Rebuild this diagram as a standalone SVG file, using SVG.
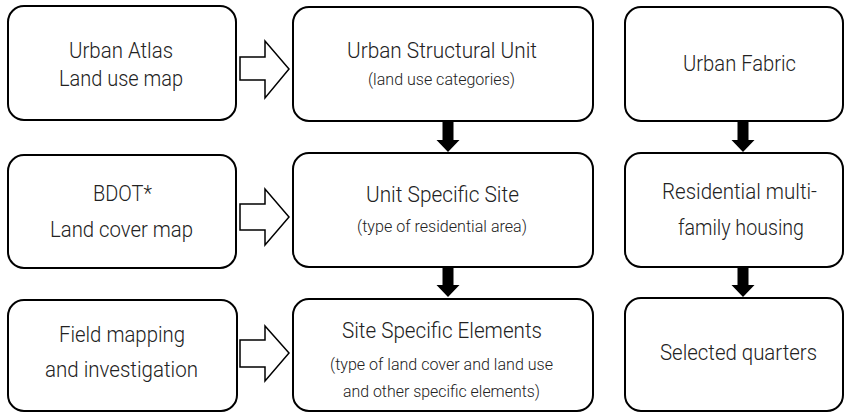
<svg xmlns="http://www.w3.org/2000/svg" width="845" height="413" viewBox="0 0 845 413">
<style>
.box{fill:#fff;stroke:#000;stroke-width:2}
.t{font-family:Roboto,"Liberation Sans",sans-serif;font-weight:300;font-size:22px;fill:#222}
.s{font-family:Roboto,"Liberation Sans",sans-serif;font-weight:300;font-size:16.5px;fill:#222}
.hollow{fill:#fff;stroke:#000;stroke-width:1.5;stroke-linejoin:miter}
.solid{fill:#000}
</style>
<rect width="845" height="413" fill="#fff"/>
<g id="urban-atlas">
<rect class="box" x="8" y="6" width="228" height="114" rx="16"/>
<text class="t" x="69" y="58" textLength="104" lengthAdjust="spacingAndGlyphs">Urban Atlas</text>
<text class="t" x="59" y="86" textLength="124" lengthAdjust="spacingAndGlyphs">Land use map</text>
</g>
<g id="urban-structural-unit">
<rect class="box" x="293" y="7" width="300" height="114" rx="16"/>
<text class="t" x="347" y="58" textLength="190" lengthAdjust="spacingAndGlyphs">Urban Structural Unit</text>
<text class="s" x="368" y="85" textLength="147" lengthAdjust="spacingAndGlyphs">(land use categories)</text>
</g>
<g id="urban-fabric">
<rect class="box" x="625" y="7" width="218" height="114" rx="16"/>
<text class="t" x="683" y="71" textLength="113" lengthAdjust="spacingAndGlyphs">Urban Fabric</text>
</g>
<g id="bdot">
<rect class="box" x="8" y="155" width="228" height="113" rx="16"/>
<text class="t" x="93" y="201" textLength="59" lengthAdjust="spacingAndGlyphs">BDOT*</text>
<text class="t" x="50" y="237" textLength="143" lengthAdjust="spacingAndGlyphs">Land cover map</text>
</g>
<g id="unit-specific-site">
<rect class="box" x="293" y="153" width="300" height="114" rx="16"/>
<text class="t" x="366" y="202" textLength="153" lengthAdjust="spacingAndGlyphs">Unit Specific Site</text>
<text class="s" x="357" y="232" textLength="170" lengthAdjust="spacingAndGlyphs">(type of residential area)</text>
</g>
<g id="residential">
<rect class="box" x="625" y="153" width="218" height="114" rx="16"/>
<text class="t" x="662" y="199" textLength="155" lengthAdjust="spacingAndGlyphs">Residential multi-</text>
<text class="t" x="678" y="235" textLength="126" lengthAdjust="spacingAndGlyphs">family housing</text>
</g>
<g id="field-mapping">
<rect class="box" x="8" y="300" width="229" height="111" rx="16"/>
<text class="t" x="59" y="342" textLength="126" lengthAdjust="spacingAndGlyphs">Field mapping</text>
<text class="t" x="45" y="377" textLength="153" lengthAdjust="spacingAndGlyphs">and investigation</text>
</g>
<g id="site-specific-elements">
<rect class="box" x="293" y="299" width="300" height="112" rx="16"/>
<text class="t" x="342" y="338" textLength="200" lengthAdjust="spacingAndGlyphs">Site Specific Elements</text>
<text class="s" x="330" y="370" textLength="223" lengthAdjust="spacingAndGlyphs">(type of land cover and land use</text>
<text class="s" x="343" y="397" textLength="197" lengthAdjust="spacingAndGlyphs">and other specific elements)</text>
</g>
<g id="selected-quarters">
<rect class="box" x="625" y="298" width="218" height="113" rx="16"/>
<text class="t" x="660" y="360" textLength="157" lengthAdjust="spacingAndGlyphs">Selected quarters</text>
</g>
<g id="connectors">
<polygon class="hollow" points="240,57 265,57 265,41 289,69 265,98 265,80 240,80"/>
<polygon class="hollow" points="240,204 265,204 265,189 289,217 265,245 265,230 240,230"/>
<polygon class="hollow" points="240,340 265,340 265,326 289,353 265,381 265,367 240,367"/>
<polygon class="solid" points="442.5,121 453.5,121 453.5,140 459.5,140 448,152 436.5,140 442.5,140"/>
<polygon class="solid" points="442.5,267 453.5,267 453.5,285 459.5,285 448,297 436.5,285 442.5,285"/>
<polygon class="solid" points="737.5,121 748.5,121 748.5,140 754.5,140 743,152 731.5,140 737.5,140"/>
<polygon class="solid" points="737.5,267 748.5,267 748.5,285 754.5,285 743,297 731.5,285 737.5,285"/>
</g>
</svg>
